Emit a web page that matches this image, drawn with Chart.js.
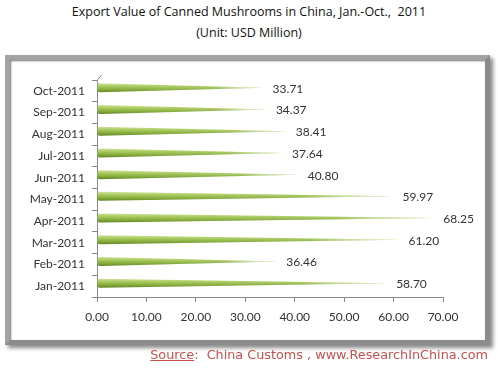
<!DOCTYPE html>
<html>
<head>
<meta charset="utf-8">
<script src="https://cdn.jsdelivr.net/npm/chart.js@4.4.0/dist/chart.umd.min.js"></script>
<style>
  body { margin: 0; background: #fff; width: 498px; height: 369px; overflow: hidden; position: relative; font-family: "Open Sans", sans-serif; }
  .titulo { position: absolute; left: 0; width: 498px; text-align: center; color: #111; font-size: 12.5px; }
  .quadro { position: absolute; left: 5px; top: 55px; width: 475px; height: 280px; border: 5px solid #a3a3a3; border-right-color: #8c8c8c; border-bottom-color: #8c8c8c; box-shadow: 3px 3px 4px #888, inset 1px 1px 2px #777; background: #fff; }
  .fonte { position: absolute; right: 10px; top: 347px; color: #c4514e; font-family: "DejaVu Sans", sans-serif; font-size: 12.8px; }
  .fonte u { text-decoration-thickness: 1px; }
  canvas { position: absolute; left: 0; top: 0; }
</style>
</head>
<body>
<div class="titulo" style="top:3px">Export Value of Canned Mushrooms in China, Jan.-Oct.,&nbsp; 2011</div>
<div class="titulo" style="top:24px">(Unit: USD Million)</div>
<div class="quadro"></div>
<canvas id="grafico" width="498" height="369"></canvas>
<div class="fonte"><u>Source</u>:&nbsp; China Customs , www.ResearchInChina.com</div>
<script>
// dados
const meses = ['Jan-2011', 'Feb-2011', 'Mar-2011', 'Apr-2011', 'May-2011', 'Jun-2011', 'Jul-2011', 'Aug-2011', 'Sep-2011', 'Oct-2011'];
const valores = [58.70, 36.46, 61.20, 68.25, 59.97, 40.80, 37.64, 38.41, 34.37, 33.71];
const ticksX = [0, 10, 20, 30, 40, 50, 60, 70];

// desenha as barras em forma de cone (pontudas no valor)
const conePlugin = {
    id: 'cones',
    beforeDatasetDraw(chart, args) {
        const ctx = chart.ctx;
        const meta = args.meta;
        meta.data.forEach(bar => {
            const h = bar.height;
            const y = bar.y - 3;
            const x0 = bar.base + 2;
            const x1 = bar.x;
            const vert = ctx.createLinearGradient(0, y - h / 2, 0, y + h / 2);
            vert.addColorStop(0, '#cfe39a');
            vert.addColorStop(0.35, '#a6c95a');
            vert.addColorStop(0.75, '#7fa634');
            vert.addColorStop(1, '#5f8222');
            ctx.save();
            ctx.beginPath();
            ctx.moveTo(x0, y - h / 2);
            ctx.lineTo(x1, y);
            ctx.lineTo(x0, y + h / 2);
            ctx.ellipse(x0, y, 2, h / 2, 0, Math.PI / 2, Math.PI * 1.5);
            ctx.closePath();
            ctx.fillStyle = vert;
            ctx.fill();
            const fade = ctx.createLinearGradient(x0, 0, x1, 0);
            fade.addColorStop(0, 'rgba(255,255,255,0)');
            fade.addColorStop(0.7, 'rgba(255,255,255,0.1)');
            fade.addColorStop(1, 'rgba(255,255,255,0.9)');
            ctx.fillStyle = fade;
            ctx.fill();
            ctx.restore();
        });
        return false;
    },
    afterDatasetsDraw(chart) {
        const ctx = chart.ctx;
        const meta = chart.getDatasetMeta(0);
        ctx.save();
        ctx.font = '12px Lato';
        ctx.fillStyle = '#333';
        ctx.textBaseline = 'middle';
        ctx.textAlign = 'left';
        meta.data.forEach((bar, i) => {
            ctx.fillText(valores[i].toFixed(2), bar.x + 9, bar.y - 2);
        });
        // pequena diagonal do efeito 3D no topo do eixo
        const area = chart.chartArea;
        ctx.strokeStyle = '#888';
        ctx.lineWidth = 1;
        ctx.beginPath();
        ctx.moveTo(area.left + 0.5, area.top);
        ctx.lineTo(area.left + 4.5, area.top - 5);
        ctx.stroke();
        ctx.restore();
    }
};

function configurarGrafico() {
    const ctx = document.getElementById('grafico').getContext('2d');
    new Chart(ctx, {
        type: 'bar',
        data: {
            labels: meses,
            datasets: [{
                data: valores,
                backgroundColor: '#9cc34a',
                barThickness: 9
            }]
        },
        plugins: [conePlugin],
        options: {
            indexAxis: 'y',
            responsive: false,
            animation: false,
            layout: { padding: { left: 5, right: 55, top: 80, bottom: 42 } },
            plugins: { legend: { display: false }, tooltip: { enabled: false } },
            scales: {
                x: {
                    min: 0, max: 70,
                    afterBuildTicks: s => { s.ticks = ticksX.map(v => ({ value: v })); },
                    afterFit: s => { s.height = 30; },
                    grid: { drawOnChartArea: false, tickLength: 5, tickColor: '#888' },
                    border: { color: '#888' },
                    ticks: { color: '#333', font: { family: 'Lato', size: 12 }, padding: 8, callback: v => v.toFixed(2) }
                },
                y: {
                    reverse: true,
                    afterFit: s => { s.width = 92; },
                    grid: { drawOnChartArea: false, tickLength: 5, tickColor: '#888' },
                    border: { color: '#888' },
                    ticks: { color: '#333', font: { family: 'Lato', size: 12 }, padding: 7 }
                }
            }
        }
    });
}

configurarGrafico();
</script>
</body>
</html>
